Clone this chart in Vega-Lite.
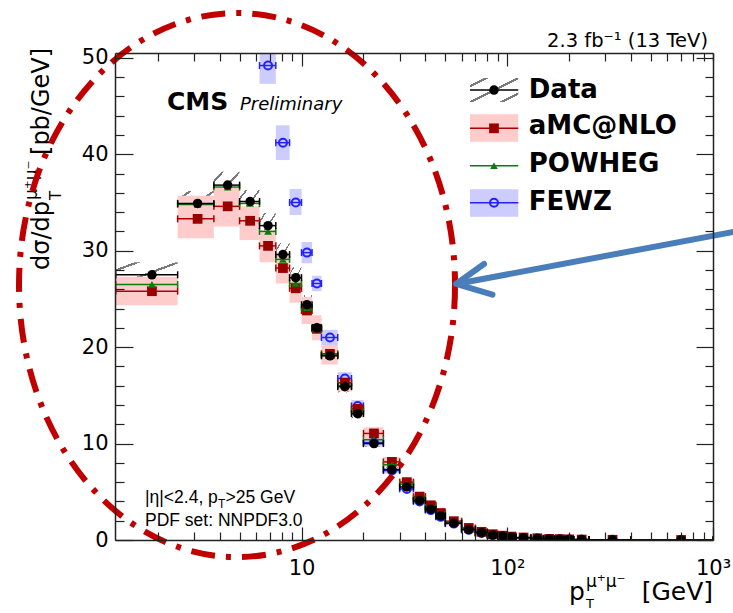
{
  "$schema": "https://vega.github.io/schema/vega-lite/v6.json",
  "width": 598,
  "height": 487,
  "autosize": {"type": "none"},
  "padding": {"left": 115, "top": 53, "right": 20, "bottom": 73},
  "background": "white",
  "config": {
    "view": {"stroke": null},
    "axis": {"grid": false, "domainColor": "#222", "domainWidth": 1.5, "tickColor": "#222", "tickWidth": 1.2, "labelFont": "DejaVu Sans", "labelFontSize": 21, "labelColor": "#000"}
  },
  "resolve": {"axis": {"x": "independent", "y": "independent"}},
  "datasets": {
    "data": [
      {"lo":1.25,"hi":2.5,"x":1.875,"y":27.5,"blo":26.4,"bhi":28.8},
      {"lo":2.5,"hi":3.75,"x":3.125,"y":34.9,"blo":33.5,"bhi":36.2},
      {"lo":3.75,"hi":5,"x":4.375,"y":36.8,"blo":35.3,"bhi":38.2},
      {"lo":5,"hi":6.25,"x":5.625,"y":35.1,"blo":33.7,"bhi":36.3},
      {"lo":6.25,"hi":7.5,"x":6.875,"y":32.6,"blo":31.3,"bhi":33.9},
      {"lo":7.5,"hi":8.75,"x":8.125,"y":29.6,"blo":28.4,"bhi":30.8},
      {"lo":8.75,"hi":10,"x":9.375,"y":27.2,"blo":26.1,"bhi":28.3},
      {"lo":10,"hi":11.25,"x":10.625,"y":24.4,"blo":23.4,"bhi":25.4},
      {"lo":11.25,"hi":12.5,"x":11.875,"y":22.0,"blo":21.1,"bhi":22.9},
      {"lo":12.5,"hi":15,"x":13.75,"y":19.1,"blo":18.3,"bhi":19.9},
      {"lo":15,"hi":17.5,"x":16.25,"y":15.9,"blo":15.3,"bhi":16.5},
      {"lo":17.5,"hi":20,"x":18.75,"y":13.1,"blo":12.6,"bhi":13.6},
      {"lo":20,"hi":25,"x":22.5,"y":10.0,"blo":9.6,"bhi":10.4},
      {"lo":25,"hi":30,"x":27.5,"y":7.3,"blo":7.0,"bhi":7.6},
      {"lo":30,"hi":35,"x":32.5,"y":5.5,"blo":5.28,"bhi":5.72},
      {"lo":35,"hi":40,"x":37.5,"y":4.1,"blo":3.94,"bhi":4.26},
      {"lo":40,"hi":45,"x":42.5,"y":3.2,"blo":3.07,"bhi":3.33},
      {"lo":45,"hi":50,"x":47.5,"y":2.5,"blo":2.4,"bhi":2.6},
      {"lo":50,"hi":60,"x":55,"y":1.75,"blo":1.68,"bhi":1.82},
      {"lo":60,"hi":70,"x":65,"y":1.1,"blo":1.06,"bhi":1.14},
      {"lo":70,"hi":80,"x":75,"y":0.76,"blo":0.73,"bhi":0.79},
      {"lo":80,"hi":90,"x":85,"y":0.52,"blo":0.5,"bhi":0.54},
      {"lo":90,"hi":100,"x":95,"y":0.4,"blo":0.38,"bhi":0.42},
      {"lo":100,"hi":110,"x":105,"y":0.31,"blo":0.3,"bhi":0.32},
      {"lo":110,"hi":130,"x":120,"y":0.23,"blo":0.22,"bhi":0.24},
      {"lo":130,"hi":150,"x":140,"y":0.16,"blo":0.15,"bhi":0.17},
      {"lo":150,"hi":170,"x":160,"y":0.11,"blo":0.105,"bhi":0.115},
      {"lo":170,"hi":190,"x":180,"y":0.08,"blo":0.077,"bhi":0.083},
      {"lo":190,"hi":210,"x":200,"y":0.06,"blo":0.058,"bhi":0.062},
      {"lo":210,"hi":250,"x":230,"y":0.04,"blo":0.038,"bhi":0.042},
      {"lo":250,"hi":400,"x":325,"y":0.02,"blo":0.019,"bhi":0.021},
      {"lo":400,"hi":1000,"x":700,"y":0.003,"blo":0.0029,"bhi":0.0031}
    ],
    "amc": [
      {"lo":1.25,"hi":2.5,"x":1.875,"y":25.8,"blo":24.35,"bhi":27.3},
      {"lo":2.5,"hi":3.75,"x":3.125,"y":33.3,"blo":31.3,"bhi":35.7},
      {"lo":3.75,"hi":5,"x":4.375,"y":34.6,"blo":32.5,"bhi":36.5},
      {"lo":5,"hi":6.25,"x":5.625,"y":33.1,"blo":31.1,"bhi":34.6},
      {"lo":6.25,"hi":7.5,"x":6.875,"y":30.5,"blo":28.8,"bhi":32.1},
      {"lo":7.5,"hi":8.75,"x":8.125,"y":28.2,"blo":26.6,"bhi":29.8},
      {"lo":8.75,"hi":10,"x":9.375,"y":26.1,"blo":24.6,"bhi":27.6},
      {"lo":10,"hi":11.25,"x":10.625,"y":23.8,"blo":22.4,"bhi":25.2},
      {"lo":11.25,"hi":12.5,"x":11.875,"y":21.9,"blo":20.7,"bhi":23.3},
      {"lo":12.5,"hi":15,"x":13.75,"y":19.3,"blo":18.2,"bhi":20.5},
      {"lo":15,"hi":17.5,"x":16.25,"y":16.3,"blo":15.4,"bhi":17.3},
      {"lo":17.5,"hi":20,"x":18.75,"y":13.6,"blo":12.8,"bhi":14.5},
      {"lo":20,"hi":25,"x":22.5,"y":11.05,"blo":10.4,"bhi":11.7},
      {"lo":25,"hi":30,"x":27.5,"y":8.1,"blo":7.6,"bhi":8.6},
      {"lo":30,"hi":35,"x":32.5,"y":6.0,"blo":5.64,"bhi":6.36},
      {"lo":35,"hi":40,"x":37.5,"y":4.5,"blo":4.23,"bhi":4.77},
      {"lo":40,"hi":45,"x":42.5,"y":3.6,"blo":3.38,"bhi":3.82},
      {"lo":45,"hi":50,"x":47.5,"y":2.8,"blo":2.63,"bhi":2.97},
      {"lo":50,"hi":60,"x":55,"y":1.95,"blo":1.83,"bhi":2.07},
      {"lo":60,"hi":70,"x":65,"y":1.25,"blo":1.17,"bhi":1.33},
      {"lo":70,"hi":80,"x":75,"y":0.85,"blo":0.8,"bhi":0.9},
      {"lo":80,"hi":90,"x":85,"y":0.6,"blo":0.56,"bhi":0.64},
      {"lo":90,"hi":100,"x":95,"y":0.45,"blo":0.42,"bhi":0.48},
      {"lo":100,"hi":110,"x":105,"y":0.35,"blo":0.33,"bhi":0.37},
      {"lo":110,"hi":130,"x":120,"y":0.26,"blo":0.24,"bhi":0.28},
      {"lo":130,"hi":150,"x":140,"y":0.18,"blo":0.17,"bhi":0.19},
      {"lo":150,"hi":170,"x":160,"y":0.12,"blo":0.11,"bhi":0.13},
      {"lo":170,"hi":190,"x":180,"y":0.09,"blo":0.085,"bhi":0.095},
      {"lo":190,"hi":210,"x":200,"y":0.065,"blo":0.061,"bhi":0.069},
      {"lo":210,"hi":250,"x":230,"y":0.045,"blo":0.042,"bhi":0.048},
      {"lo":250,"hi":400,"x":325,"y":0.022,"blo":0.021,"bhi":0.023},
      {"lo":400,"hi":1000,"x":700,"y":0.003,"blo":0.0028,"bhi":0.0032}
    ],
    "powheg": [
      {"lo":1.25,"hi":2.5,"x":1.875,"y":26.5},
      {"lo":2.5,"hi":3.75,"x":3.125,"y":34.8},
      {"lo":3.75,"hi":5,"x":4.375,"y":36.6},
      {"lo":5,"hi":6.25,"x":5.625,"y":34.9},
      {"lo":6.25,"hi":7.5,"x":6.875,"y":32.0},
      {"lo":7.5,"hi":8.75,"x":8.125,"y":29.1},
      {"lo":8.75,"hi":10,"x":9.375,"y":26.6},
      {"lo":10,"hi":11.25,"x":10.625,"y":24.1},
      {"lo":11.25,"hi":12.5,"x":11.875,"y":21.9},
      {"lo":12.5,"hi":15,"x":13.75,"y":19.2},
      {"lo":15,"hi":17.5,"x":16.25,"y":16.0},
      {"lo":17.5,"hi":20,"x":18.75,"y":13.3},
      {"lo":20,"hi":25,"x":22.5,"y":10.4},
      {"lo":25,"hi":30,"x":27.5,"y":7.8},
      {"lo":30,"hi":35,"x":32.5,"y":5.8},
      {"lo":35,"hi":40,"x":37.5,"y":4.3},
      {"lo":40,"hi":45,"x":42.5,"y":3.4},
      {"lo":45,"hi":50,"x":47.5,"y":2.65},
      {"lo":50,"hi":60,"x":55,"y":1.85},
      {"lo":60,"hi":70,"x":65,"y":1.18},
      {"lo":70,"hi":80,"x":75,"y":0.8},
      {"lo":80,"hi":90,"x":85,"y":0.56},
      {"lo":90,"hi":100,"x":95,"y":0.42},
      {"lo":100,"hi":110,"x":105,"y":0.33},
      {"lo":110,"hi":130,"x":120,"y":0.24},
      {"lo":130,"hi":150,"x":140,"y":0.17},
      {"lo":150,"hi":170,"x":160,"y":0.115},
      {"lo":170,"hi":190,"x":180,"y":0.085},
      {"lo":190,"hi":210,"x":200,"y":0.06},
      {"lo":210,"hi":250,"x":230,"y":0.042},
      {"lo":250,"hi":400,"x":325,"y":0.021},
      {"lo":400,"hi":1000,"x":700,"y":0.003}
    ],
    "fewz": [
      {"lo":6.25,"hi":7.5,"x":6.875,"y":49.2,"blo":47.3,"bhi":51.1},
      {"lo":7.5,"hi":8.75,"x":8.125,"y":41.2,"blo":39.4,"bhi":43.0},
      {"lo":8.75,"hi":10,"x":9.375,"y":35.0,"blo":33.7,"bhi":36.4},
      {"lo":10,"hi":11.25,"x":10.625,"y":29.8,"blo":28.7,"bhi":30.9},
      {"lo":11.25,"hi":12.5,"x":11.875,"y":26.6,"blo":25.8,"bhi":27.4},
      {"lo":12.5,"hi":15,"x":13.75,"y":21.0,"blo":20.2,"bhi":21.8},
      {"lo":15,"hi":17.5,"x":16.25,"y":16.75,"blo":16.1,"bhi":17.4},
      {"lo":17.5,"hi":20,"x":18.75,"y":13.9,"blo":13.3,"bhi":14.5},
      {"lo":20,"hi":25,"x":22.5,"y":10.1,"blo":9.7,"bhi":10.5},
      {"lo":25,"hi":30,"x":27.5,"y":7.2,"blo":6.9,"bhi":7.5},
      {"lo":30,"hi":35,"x":32.5,"y":5.3,"blo":5.1,"bhi":5.5},
      {"lo":35,"hi":40,"x":37.5,"y":4.0,"blo":3.84,"bhi":4.16},
      {"lo":40,"hi":45,"x":42.5,"y":3.1,"blo":2.98,"bhi":3.22},
      {"lo":45,"hi":50,"x":47.5,"y":2.4,"blo":2.3,"bhi":2.5},
      {"lo":50,"hi":60,"x":55,"y":1.7,"blo":1.63,"bhi":1.77},
      {"lo":60,"hi":70,"x":65,"y":1.05,"blo":1.0,"bhi":1.1},
      {"lo":70,"hi":80,"x":75,"y":0.72,"blo":0.69,"bhi":0.75},
      {"lo":80,"hi":90,"x":85,"y":0.5,"blo":0.48,"bhi":0.52},
      {"lo":90,"hi":100,"x":95,"y":0.38,"blo":0.36,"bhi":0.4},
      {"lo":100,"hi":110,"x":105,"y":0.3,"blo":0.29,"bhi":0.31},
      {"lo":110,"hi":130,"x":120,"y":0.22,"blo":0.21,"bhi":0.23},
      {"lo":130,"hi":150,"x":140,"y":0.15,"blo":0.144,"bhi":0.156},
      {"lo":150,"hi":170,"x":160,"y":0.1,"blo":0.096,"bhi":0.104},
      {"lo":170,"hi":190,"x":180,"y":0.075,"blo":0.072,"bhi":0.078},
      {"lo":190,"hi":210,"x":200,"y":0.055,"blo":0.053,"bhi":0.057},
      {"lo":210,"hi":250,"x":230,"y":0.038,"blo":0.036,"bhi":0.04},
      {"lo":250,"hi":400,"x":325,"y":0.019,"blo":0.018,"bhi":0.02},
      {"lo":400,"hi":1000,"x":700,"y":0.003,"blo":0.0028,"bhi":0.0032}
    ]
  },
  "layer": [
    {
      "data": {"name": "data"},
      "mark": {"type": "rect", "clip": true, "strokeWidth": 0, "fill": {"gradient": "linear", "x1": 0, "y1": 0, "x2": 1, "y2": 1, "stops": [
        {"offset": 0, "color": "rgba(255,255,255,0)"}, {"offset": 0.15, "color": "rgba(255,255,255,0)"},
        {"offset": 0.15, "color": "#7a7a7a"}, {"offset": 0.2, "color": "#7a7a7a"},
        {"offset": 0.2, "color": "rgba(255,255,255,0)"}, {"offset": 0.48, "color": "rgba(255,255,255,0)"},
        {"offset": 0.48, "color": "#7a7a7a"}, {"offset": 0.53, "color": "#7a7a7a"},
        {"offset": 0.53, "color": "rgba(255,255,255,0)"}, {"offset": 0.8, "color": "rgba(255,255,255,0)"},
        {"offset": 0.8, "color": "#7a7a7a"}, {"offset": 0.85, "color": "#7a7a7a"},
        {"offset": 0.85, "color": "rgba(255,255,255,0)"}, {"offset": 1, "color": "rgba(255,255,255,0)"}]}},
      "encoding": {
        "x": {"field": "lo", "type": "quantitative", "scale": {"type": "log", "domain": [1.24, 1000], "nice": false},
          "axis": {"orient": "bottom", "title": null, "values": [2,3,4,5,6,7,8,9,10,20,30,40,50,60,70,80,90,100,200,300,400,500,600,700,800,900,1000],
            "labelExpr": "datum.value == 10 ? '10' : datum.value == 100 ? '10\u00b2' : datum.value == 1000 ? '10\u00b3' : ''",
            "tickSize": 0, "labelPadding": 17, "labelFlush": false, "labelOverlap": false, "labelBound": false, "zindex": 1,
            "encoding": {"ticks": {"y2": {"condition": {"test": "datum.value == 10 || datum.value == 100 || datum.value == 1000", "value": -13}, "value": -8}}}}},
        "x2": {"field": "hi"},
        "y": {"field": "blo", "type": "quantitative", "scale": {"domain": [0, 50.5], "nice": false, "zero": false},
          "axis": {"orient": "left", "title": null, "values": [0,2,4,6,8,10,12,14,16,18,20,22,24,26,28,30,32,34,36,38,40,42,44,46,48,50],
            "labelExpr": "datum.value % 10 == 0 ? datum.label : ''",
            "tickSize": 0, "labelPadding": 7, "labelFlush": false, "labelOverlap": false, "zindex": 1,
            "encoding": {"ticks": {"x2": {"condition": {"test": "datum.value % 10 == 0", "value": 18}, "value": 9}}}}},
        "y2": {"field": "bhi"}
      }
    },
    {
      "data": {"name": "amc"},
      "mark": {"type": "rect", "clip": true, "fill": "#ffcccc", "strokeWidth": 0},
      "encoding": {
        "x": {"field": "lo", "type": "quantitative", "scale": {"type": "log"},
          "axis": {"orient": "top", "title": null, "values": [2,3,4,5,6,7,8,9,10,20,30,40,50,60,70,80,90,100,200,300,400,500,600,700,800,900,1000],
            "labels": false, "tickSize": 0, "zindex": 1,
            "encoding": {"ticks": {"y2": {"condition": {"test": "datum.value == 10 || datum.value == 100", "value": 13}, "value": 8}}}}},
        "x2": {"field": "hi"},
        "y": {"field": "blo", "type": "quantitative",
          "axis": {"orient": "right", "title": null, "values": [0,2,4,6,8,10,12,14,16,18,20,22,24,26,28,30,32,34,36,38,40,42,44,46,48,50],
            "labels": false, "tickSize": 0, "zindex": 1,
            "encoding": {"ticks": {"x2": {"condition": {"test": "datum.value % 10 == 0", "value": -17}, "value": -8}}}}},
        "y2": {"field": "bhi"}
      }
    },
    {
      "data": {"name": "fewz"},
      "mark": {"type": "rect", "clip": true, "fill": "#ccccff", "strokeWidth": 0},
      "encoding": {
        "x": {"field": "lo", "type": "quantitative", "scale": {"type": "log"}, "axis": null},
        "x2": {"field": "hi"},
        "y": {"field": "blo", "type": "quantitative", "axis": null},
        "y2": {"field": "bhi"}
      }
    },
    {
      "data": {"name": "fewz"},
      "mark": {"type": "rule", "clip": true, "color": "#2222ff", "strokeWidth": 1.5},
      "encoding": {"x": {"field": "lo", "type": "quantitative", "scale": {"type": "log"}, "axis": null}, "x2": {"field": "hi"}, "y": {"field": "y", "type": "quantitative", "axis": null}}
    },
    {
      "data": {"name": "fewz"},
      "transform": [{"fold": ["lo", "hi"], "as": ["k", "v"]}],
      "mark": {"type": "tick", "orient": "vertical", "clip": true, "color": "#2222ff", "size": 7, "thickness": 1.5, "opacity": 1},
      "encoding": {"x": {"field": "v", "type": "quantitative", "scale": {"type": "log"}, "axis": null}, "y": {"field": "y", "type": "quantitative", "axis": null}}
    },
    {
      "data": {"name": "fewz"},
      "mark": {"type": "point", "clip": true, "shape": "circle", "filled": false, "color": "#2222ff", "size": 64, "strokeWidth": 2, "opacity": 1},
      "encoding": {"x": {"field": "x", "type": "quantitative", "scale": {"type": "log"}, "axis": null}, "y": {"field": "y", "type": "quantitative", "axis": null}}
    },
    {
      "data": {"name": "amc"},
      "mark": {"type": "rule", "clip": true, "color": "#aa0000", "strokeWidth": 1.5},
      "encoding": {"x": {"field": "lo", "type": "quantitative", "scale": {"type": "log"}, "axis": null}, "x2": {"field": "hi"}, "y": {"field": "y", "type": "quantitative", "axis": null}}
    },
    {
      "data": {"name": "amc"},
      "transform": [{"fold": ["lo", "hi"], "as": ["k", "v"]}],
      "mark": {"type": "tick", "orient": "vertical", "clip": true, "color": "#aa0000", "size": 7, "thickness": 1.5, "opacity": 1},
      "encoding": {"x": {"field": "v", "type": "quantitative", "scale": {"type": "log"}, "axis": null}, "y": {"field": "y", "type": "quantitative", "axis": null}}
    },
    {
      "data": {"name": "amc"},
      "mark": {"type": "point", "clip": true, "shape": "square", "filled": true, "color": "#990000", "size": 95, "opacity": 1},
      "encoding": {"x": {"field": "x", "type": "quantitative", "scale": {"type": "log"}, "axis": null}, "y": {"field": "y", "type": "quantitative", "axis": null}}
    },
    {
      "data": {"name": "powheg"},
      "mark": {"type": "rule", "clip": true, "color": "#0a7d0a", "strokeWidth": 1.5},
      "encoding": {"x": {"field": "lo", "type": "quantitative", "scale": {"type": "log"}, "axis": null}, "x2": {"field": "hi"}, "y": {"field": "y", "type": "quantitative", "axis": null}}
    },
    {
      "data": {"name": "powheg"},
      "transform": [{"fold": ["lo", "hi"], "as": ["k", "v"]}],
      "mark": {"type": "tick", "orient": "vertical", "clip": true, "color": "#0a7d0a", "size": 7, "thickness": 1.5, "opacity": 1},
      "encoding": {"x": {"field": "v", "type": "quantitative", "scale": {"type": "log"}, "axis": null}, "y": {"field": "y", "type": "quantitative", "axis": null}}
    },
    {
      "data": {"name": "powheg"},
      "mark": {"type": "point", "clip": true, "shape": "triangle-up", "filled": true, "color": "#0a7d0a", "size": 60, "opacity": 1},
      "encoding": {"x": {"field": "x", "type": "quantitative", "scale": {"type": "log"}, "axis": null}, "y": {"field": "y", "type": "quantitative", "axis": null}}
    },
    {
      "data": {"name": "data"},
      "mark": {"type": "rule", "clip": true, "color": "#000000", "strokeWidth": 1.5},
      "encoding": {"x": {"field": "lo", "type": "quantitative", "scale": {"type": "log"}, "axis": null}, "x2": {"field": "hi"}, "y": {"field": "y", "type": "quantitative", "axis": null}}
    },
    {
      "data": {"name": "data"},
      "transform": [{"fold": ["lo", "hi"], "as": ["k", "v"]}],
      "mark": {"type": "tick", "orient": "vertical", "clip": true, "color": "#000000", "size": 7, "thickness": 1.5, "opacity": 1},
      "encoding": {"x": {"field": "v", "type": "quantitative", "scale": {"type": "log"}, "axis": null}, "y": {"field": "y", "type": "quantitative", "axis": null}}
    },
    {
      "data": {"name": "data"},
      "mark": {"type": "point", "clip": true, "shape": "circle", "filled": true, "color": "#000000", "size": 90, "opacity": 1},
      "encoding": {"x": {"field": "x", "type": "quantitative", "scale": {"type": "log"}, "axis": null}, "y": {"field": "y", "type": "quantitative", "axis": null}}
    },

    {
      "data": {"values": [{}]},
      "mark": {"type": "rect", "strokeWidth": 0, "fill": {"gradient": "linear", "x1": 0, "y1": 0, "x2": 1, "y2": 1, "stops": [
        {"offset": 0, "color": "rgba(255,255,255,0)"}, {"offset": 0.15, "color": "rgba(255,255,255,0)"},
        {"offset": 0.15, "color": "#7a7a7a"}, {"offset": 0.2, "color": "#7a7a7a"},
        {"offset": 0.2, "color": "rgba(255,255,255,0)"}, {"offset": 0.48, "color": "rgba(255,255,255,0)"},
        {"offset": 0.48, "color": "#7a7a7a"}, {"offset": 0.53, "color": "#7a7a7a"},
        {"offset": 0.53, "color": "rgba(255,255,255,0)"}, {"offset": 0.8, "color": "rgba(255,255,255,0)"},
        {"offset": 0.8, "color": "#7a7a7a"}, {"offset": 0.85, "color": "#7a7a7a"},
        {"offset": 0.85, "color": "rgba(255,255,255,0)"}, {"offset": 1, "color": "rgba(255,255,255,0)"}]}},
      "encoding": {"x": {"datum": 65.9, "type": "quantitative", "scale": {"type": "log"}, "axis": null}, "x2": {"datum": 113.1}, "y": {"datum": 45.42, "type": "quantitative", "axis": null}, "y2": {"datum": 47.91}}
    },
    {
      "data": {"values": [{}]},
      "mark": {"type": "rect", "fill": "#ffcccc", "strokeWidth": 0},
      "encoding": {"x": {"datum": 65.9, "type": "quantitative", "scale": {"type": "log"}, "axis": null}, "x2": {"datum": 113.1}, "y": {"datum": 41.30, "type": "quantitative", "axis": null}, "y2": {"datum": 44.14}}
    },
    {
      "data": {"values": [{}]},
      "mark": {"type": "rect", "fill": "#ccccff", "strokeWidth": 0},
      "encoding": {"x": {"datum": 65.9, "type": "quantitative", "scale": {"type": "log"}, "axis": null}, "x2": {"datum": 113.1}, "y": {"datum": 33.53, "type": "quantitative", "axis": null}, "y2": {"datum": 36.37}}
    },
    {
      "data": {"values": [{}]},
      "mark": {"type": "rule", "color": "#000000", "strokeWidth": 1.5},
      "encoding": {"x": {"datum": 65.9, "type": "quantitative", "scale": {"type": "log"}, "axis": null}, "x2": {"datum": 113.1}, "y": {"datum": 46.66, "type": "quantitative", "axis": null}}
    },
    {
      "data": {"values": [{}]},
      "mark": {"type": "rule", "color": "#aa0000", "strokeWidth": 1.5},
      "encoding": {"x": {"datum": 65.9, "type": "quantitative", "scale": {"type": "log"}, "axis": null}, "x2": {"datum": 113.1}, "y": {"datum": 42.69, "type": "quantitative", "axis": null}}
    },
    {
      "data": {"values": [{}]},
      "mark": {"type": "rule", "color": "#0a7d0a", "strokeWidth": 1.5},
      "encoding": {"x": {"datum": 65.9, "type": "quantitative", "scale": {"type": "log"}, "axis": null}, "x2": {"datum": 113.1}, "y": {"datum": 38.81, "type": "quantitative", "axis": null}}
    },
    {
      "data": {"values": [{}]},
      "mark": {"type": "rule", "color": "#2222ff", "strokeWidth": 1.5},
      "encoding": {"x": {"datum": 65.9, "type": "quantitative", "scale": {"type": "log"}, "axis": null}, "x2": {"datum": 113.1}, "y": {"datum": 34.98, "type": "quantitative", "axis": null}}
    },
    {
      "data": {"values": [{}]},
      "mark": {"type": "point", "shape": "circle", "filled": true, "color": "#000000", "size": 90, "opacity": 1},
      "encoding": {"x": {"datum": 86.2, "type": "quantitative", "scale": {"type": "log"}, "axis": null}, "y": {"datum": 46.66, "type": "quantitative", "axis": null}}
    },
    {
      "data": {"values": [{}]},
      "mark": {"type": "point", "shape": "square", "filled": true, "color": "#990000", "size": 95, "opacity": 1},
      "encoding": {"x": {"datum": 86.2, "type": "quantitative", "scale": {"type": "log"}, "axis": null}, "y": {"datum": 42.69, "type": "quantitative", "axis": null}}
    },
    {
      "data": {"values": [{}]},
      "mark": {"type": "point", "shape": "triangle-up", "filled": true, "color": "#0a7d0a", "size": 60, "opacity": 1},
      "encoding": {"x": {"datum": 86.2, "type": "quantitative", "scale": {"type": "log"}, "axis": null}, "y": {"datum": 38.81, "type": "quantitative", "axis": null}}
    },
    {
      "data": {"values": [{}]},
      "mark": {"type": "point", "shape": "circle", "filled": false, "color": "#2222ff", "size": 64, "strokeWidth": 2, "opacity": 1},
      "encoding": {"x": {"datum": 86.2, "type": "quantitative", "scale": {"type": "log"}, "axis": null}, "y": {"datum": 34.98, "type": "quantitative", "axis": null}}
    },
    {
      "data": {"values": [{}]},
      "mark": {"type": "text", "text": "Data", "font": "DejaVu Sans", "fontSize": 26, "fontWeight": "bold", "align": "left", "baseline": "alphabetic", "color": "#000"},
      "encoding": {"x": {"datum": 127.2, "type": "quantitative", "scale": {"type": "log"}, "axis": null}, "y": {"datum": 45.79, "type": "quantitative", "axis": null}}
    },
    {
      "data": {"values": [{}]},
      "mark": {"type": "text", "text": "aMC@NLO", "font": "DejaVu Sans", "fontSize": 26, "fontWeight": "bold", "align": "left", "baseline": "alphabetic", "color": "#000"},
      "encoding": {"x": {"datum": 127.2, "type": "quantitative", "scale": {"type": "log"}, "axis": null}, "y": {"datum": 42.10, "type": "quantitative", "axis": null}}
    },
    {
      "data": {"values": [{}]},
      "mark": {"type": "text", "text": "POWHEG", "font": "DejaVu Sans", "fontSize": 26, "fontWeight": "bold", "align": "left", "baseline": "alphabetic", "color": "#000"},
      "encoding": {"x": {"datum": 127.2, "type": "quantitative", "scale": {"type": "log"}, "axis": null}, "y": {"datum": 38.16, "type": "quantitative", "axis": null}}
    },
    {
      "data": {"values": [{}]},
      "mark": {"type": "text", "text": "FEWZ", "font": "DejaVu Sans", "fontSize": 26, "fontWeight": "bold", "align": "left", "baseline": "alphabetic", "color": "#000"},
      "encoding": {"x": {"datum": 127.2, "type": "quantitative", "scale": {"type": "log"}, "axis": null}, "y": {"datum": 34.22, "type": "quantitative", "axis": null}}
    },

    {
      "data": {"values": [{}]},
      "mark": {"type": "text", "text": "2.3 fb\u207b\u00b9  (13 TeV)", "font": "DejaVu Sans", "fontSize": 19.5, "align": "right", "baseline": "alphabetic", "color": "#000"},
      "encoding": {"x": {"datum": 945.6, "type": "quantitative", "scale": {"type": "log"}, "axis": null}, "y": {"datum": 51.15, "type": "quantitative", "axis": null}}
    },
    {
      "data": {"values": [{}]},
      "mark": {"type": "text", "text": "CMS", "font": "DejaVu Sans", "fontSize": 25, "fontWeight": "bold", "align": "left", "baseline": "alphabetic", "color": "#000"},
      "encoding": {"x": {"datum": 2.219, "type": "quantitative", "scale": {"type": "log"}, "axis": null}, "y": {"datum": 44.6, "type": "quantitative", "axis": null}}
    },
    {
      "data": {"values": [{}]},
      "mark": {"type": "text", "text": "Preliminary", "font": "DejaVu Sans", "fontSize": 18, "fontStyle": "italic", "align": "left", "baseline": "alphabetic", "color": "#000"},
      "encoding": {"x": {"datum": 5.023, "type": "quantitative", "scale": {"type": "log"}, "axis": null}, "y": {"datum": 44.6, "type": "quantitative", "axis": null}}
    },
    {
      "data": {"values": [{}]},
      "mark": {"type": "text", "text": "|\u03b7|<2.4, p", "font": "Liberation Sans", "fontSize": 17.5, "align": "left", "baseline": "alphabetic", "color": "#000"},
      "encoding": {"x": {"datum": 1.735, "type": "quantitative", "scale": {"type": "log"}, "axis": null}, "y": {"datum": 3.84, "type": "quantitative", "axis": null}}
    },
    {
      "data": {"values": [{}]},
      "mark": {"type": "text", "text": "T", "font": "Liberation Sans", "fontSize": 12, "align": "left", "baseline": "alphabetic", "color": "#000", "dx": 73, "dy": 5},
      "encoding": {"x": {"datum": 1.735, "type": "quantitative", "scale": {"type": "log"}, "axis": null}, "y": {"datum": 3.84, "type": "quantitative", "axis": null}}
    },
    {
      "data": {"values": [{}]},
      "mark": {"type": "text", "text": ">25 GeV", "font": "Liberation Sans", "fontSize": 17.5, "align": "left", "baseline": "alphabetic", "color": "#000", "dx": 80.5},
      "encoding": {"x": {"datum": 1.735, "type": "quantitative", "scale": {"type": "log"}, "axis": null}, "y": {"datum": 3.84, "type": "quantitative", "axis": null}}
    },
    {
      "data": {"values": [{}]},
      "mark": {"type": "text", "text": "PDF set: NNPDF3.0", "font": "Liberation Sans", "fontSize": 17.5, "align": "left", "baseline": "alphabetic", "color": "#000"},
      "encoding": {"x": {"datum": 1.735, "type": "quantitative", "scale": {"type": "log"}, "axis": null}, "y": {"datum": 1.45, "type": "quantitative", "axis": null}}
    },

    {
      "data": {"values": [{}]},
      "mark": {"type": "text", "text": "d\u03c3/dp", "font": "DejaVu Sans", "fontSize": 24, "angle": 270, "align": "left", "baseline": "alphabetic", "color": "#000"},
      "encoding": {"x": {"datum": 0.5925, "type": "quantitative", "scale": {"type": "log"}, "axis": null}, "y": {"datum": 28.0, "type": "quantitative", "axis": null}}
    },
    {
      "data": {"values": [{}]},
      "mark": {"type": "text", "text": "T", "font": "DejaVu Sans", "fontSize": 15, "angle": 270, "align": "left", "baseline": "alphabetic", "color": "#000", "dx": 70, "dy": 12},
      "encoding": {"x": {"datum": 0.5925, "type": "quantitative", "scale": {"type": "log"}, "axis": null}, "y": {"datum": 28.0, "type": "quantitative", "axis": null}}
    },
    {
      "data": {"values": [{}]},
      "mark": {"type": "text", "text": "\u03bc\u207a\u03bc\u207b", "font": "DejaVu Sans", "fontSize": 17, "angle": 270, "align": "left", "baseline": "alphabetic", "color": "#000", "dx": 70, "dy": -12},
      "encoding": {"x": {"datum": 0.5925, "type": "quantitative", "scale": {"type": "log"}, "axis": null}, "y": {"datum": 28.0, "type": "quantitative", "axis": null}}
    },
    {
      "data": {"values": [{}]},
      "mark": {"type": "text", "text": "[pb/GeV]", "font": "DejaVu Sans", "fontSize": 24, "angle": 270, "align": "left", "baseline": "alphabetic", "color": "#000", "dx": 115},
      "encoding": {"x": {"datum": 0.5925, "type": "quantitative", "scale": {"type": "log"}, "axis": null}, "y": {"datum": 28.0, "type": "quantitative", "axis": null}}
    },

    {
      "data": {"values": [{}]},
      "mark": {"type": "text", "text": "[GeV]", "font": "DejaVu Sans", "fontSize": 25, "align": "right", "baseline": "alphabetic", "color": "#000"},
      "encoding": {"x": {"datum": 1000, "type": "quantitative", "scale": {"type": "log"}, "axis": null}, "y": {"datum": -6.22, "type": "quantitative", "axis": null}}
    },
    {
      "data": {"values": [{}]},
      "mark": {"type": "text", "text": "p", "font": "DejaVu Sans", "fontSize": 25, "align": "left", "baseline": "alphabetic", "color": "#000", "dx": -144},
      "encoding": {"x": {"datum": 1000, "type": "quantitative", "scale": {"type": "log"}, "axis": null}, "y": {"datum": -6.22, "type": "quantitative", "axis": null}}
    },
    {
      "data": {"values": [{}]},
      "mark": {"type": "text", "text": "T", "font": "DejaVu Sans", "fontSize": 13, "align": "left", "baseline": "alphabetic", "color": "#000", "dx": -127, "dy": 8},
      "encoding": {"x": {"datum": 1000, "type": "quantitative", "scale": {"type": "log"}, "axis": null}, "y": {"datum": -6.22, "type": "quantitative", "axis": null}}
    },
    {
      "data": {"values": [{}]},
      "mark": {"type": "text", "text": "\u03bc\u207a\u03bc\u207b", "font": "DejaVu Sans", "fontSize": 17, "align": "left", "baseline": "alphabetic", "color": "#000", "dx": -127, "dy": -13},
      "encoding": {"x": {"datum": 1000, "type": "quantitative", "scale": {"type": "log"}, "axis": null}, "y": {"datum": -6.22, "type": "quantitative", "axis": null}}
    },

    {
      "data": {"values": [{}]},
      "mark": {"type": "point", "shape": "M0.8015,0C0.8015,0.5523,0.4427,1,0,1C-0.4427,1,-0.8015,0.5523,-0.8015,0C-0.8015,-0.5523,-0.4427,-1,0,-1C0.4427,-1,0.8015,-0.5523,0.8015,0Z", "size": 295936, "filled": false, "stroke": "#c00000", "strokeWidth": 6, "strokeDash": [24, 11, 5, 11], "opacity": 1},
      "encoding": {"x": {"datum": 4.858, "type": "quantitative", "scale": {"type": "log"}, "axis": null}, "y": {"datum": 26.44, "type": "quantitative", "axis": null}}
    },
    {
      "data": {"values": [{}]},
      "mark": {"type": "rule", "color": "#4a7ebb", "strokeWidth": 6},
      "encoding": {"x": {"datum": 1352, "type": "quantitative", "scale": {"type": "log"}, "axis": null}, "x2": {"datum": 56.35}, "y": {"datum": 32.07, "type": "quantitative", "axis": null}, "y2": {"datum": 26.55}}
    },
    {
      "data": {"values": [{}]},
      "mark": {"type": "point", "shape": "M0.737,-0.526L0,0L0.96,0.279", "size": 5776, "filled": false, "stroke": "#4a7ebb", "strokeWidth": 6, "strokeCap": "round", "strokeJoin": "round", "opacity": 1},
      "encoding": {"x": {"datum": 56.35, "type": "quantitative", "scale": {"type": "log"}, "axis": null}, "y": {"datum": 26.55, "type": "quantitative", "axis": null}}
    }
  ]
}
